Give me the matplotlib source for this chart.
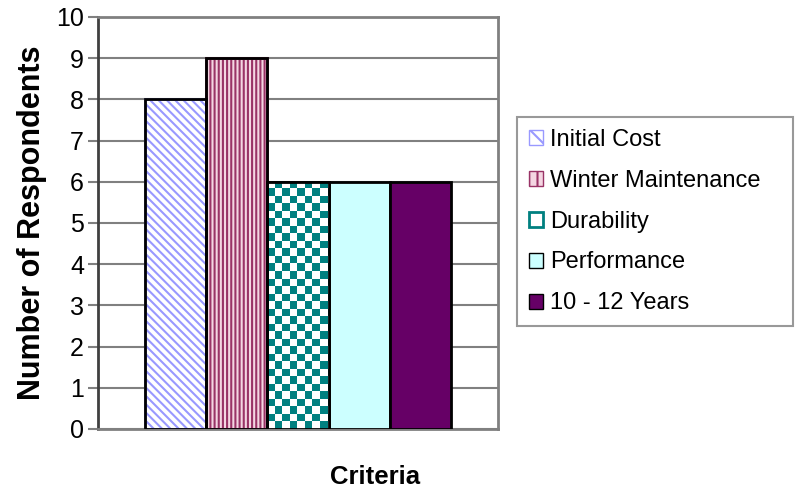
import numpy as np
import matplotlib.pyplot as plt
from matplotlib.patches import Patch

plt.rcParams['font.family'] = ['Liberation Sans', 'DejaVu Sans']
plt.rcParams['hatch.linewidth'] = 1.5

criteria = ['Initial Cost', 'Winter Maintenance', 'Durability', 'Performance', '10 - 12 Years']
respondents = [8, 9, 6, 6, 6]
face_colors = ['white', '#f4d6e2', 'white', '#ccffff', '#660066']
hatch_colors = ['#9999ff', '#993366', '#008080', '#ccffff', '#660066']
hatches = ['\\\\\\\\', '||||', None, None, None]

fig = plt.figure(figsize=(7.95, 4.93), dpi=100)
ax = fig.add_axes([98 / 795, 1 - 429 / 493, 400 / 795, 412 / 493])

x = np.arange(len(criteria))
bars = []
for i, (name, val) in enumerate(zip(criteria, respondents)):
    b = ax.bar(x[i], val, width=1.0, color=face_colors[i], edgecolor='black',
               linewidth=2, hatch=hatches[i], zorder=3)[0]
    if hatches[i]:
        b.set_edgecolor(hatch_colors[i])
        # black outline on top
        ax.bar(x[i], val, width=1.0, fill=False, edgecolor='black', linewidth=2, zorder=4)
    bars.append(b)

# checkerboard for Durability
dur = bars[2]
n = 64
yy, xx = np.mgrid[0:n, 0:n]
checker = ((xx + yy) % 2).astype(float)
cmap = plt.matplotlib.colors.ListedColormap(['white', '#008080'])
cell_w = 7.5 / 61.4
cell_h = 7.5 / 41.2
im = ax.imshow(checker, cmap=cmap, extent=(x[2] - 0.5, x[2] - 0.5 + n * cell_w, 0, n * cell_h),
               origin='lower', interpolation='nearest', aspect='auto', zorder=3.5)
im.set_clip_path(dur)
ax.bar(x[2], respondents[2], width=1.0, fill=False, edgecolor='black', linewidth=2, zorder=4)

ax.set_xlim(-1.265, 5.265)
ax.set_ylim(0, 10)
ax.set_yticks(range(0, 11))
ax.set_xticks([])
ax.yaxis.grid(True, color='#808080', linewidth=1.5, zorder=0)
for s in ax.spines.values():
    s.set_color('#808080')
    s.set_linewidth(2)
ax.spines['left'].set_color('#404040')
ax.tick_params(axis='y', labelsize=18, length=7, width=1.5, color='#808080', pad=3)

ax.set_ylabel('Number of Respondents', fontsize=22, fontweight='bold', labelpad=7)
fig.text(375 / 795, 1 - 477 / 493, 'Criteria', fontsize=18.5, fontweight='bold',
         ha='center', va='center')

handles = []
for i, name in enumerate(criteria):
    if i == 2:
        handles.append(Patch(facecolor='white', edgecolor='#008080', linewidth=2, label=name))
    elif hatches[i]:
        handles.append(Patch(facecolor=face_colors[i], edgecolor=hatch_colors[i], hatch=hatches[i][:2],
                             linewidth=1, label=name))
    else:
        handles.append(Patch(facecolor=face_colors[i], edgecolor='black', linewidth=1, label=name))

leg = fig.legend(handles=handles, loc='upper left',
                 bbox_to_anchor=(517 / 795, 1 - 327 / 493, 276 / 795, 210 / 493),
                 mode='expand', fontsize=17, frameon=True, fancybox=False, edgecolor='#808080',
                 handlelength=0.6, handleheight=0.6, handletextpad=0.3,
                 labelspacing=0.8, borderpad=0.5, borderaxespad=0)
leg.get_frame().set_linewidth(1.5)

fig.savefig('out.png', dpi=100)
